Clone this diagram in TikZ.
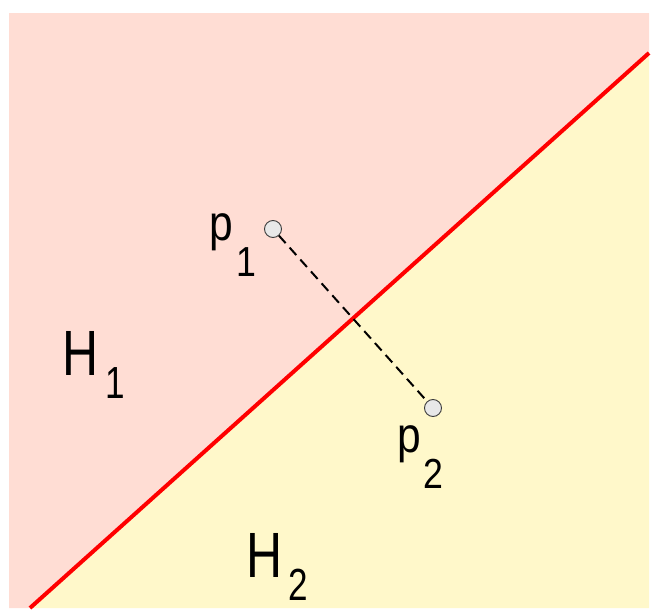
\documentclass[tikz,border=0pt]{standalone}
\usepackage{fontspec}
\setmainfont{Liberation Sans}
\definecolor{pinkH}{RGB}{255,221,212}
\definecolor{yellowH}{RGB}{255,248,202}
\definecolor{ptfill}{RGB}{232,232,232}
\definecolor{ptline}{RGB}{60,60,60}
\newcommand{\biglab}[3]{\scalebox{0.78}[1]{{\fontsize{64}{64}\selectfont #1}\kern#3\raisebox{-23pt}{\fontsize{45}{45}\selectfont #2}}}
\newcommand{\smalllab}[3]{\scalebox{0.85}[1]{{\fontsize{50}{50}\selectfont #1}\kern#3\raisebox{-36pt}{\fontsize{42}{42}\selectfont #2}}}
\begin{document}
\begin{tikzpicture}[x=1pt,y=-1pt,
  pt/.style={circle,draw=ptline,line width=0.9pt,fill=ptfill,minimum size=17pt,inner sep=0pt},
  sep/.style={red,line width=4pt},
  seg/.style={black,line width=2pt,dash pattern=on 10pt off 6pt},
  lab/.style={anchor=base west,inner sep=0pt,text=black}]
\useasboundingbox (0,0) rectangle (654,613);
\fill[pinkH] (9,13) -- (649,13) -- (649,53) -- (30,608) -- (9,608) -- cycle;
\fill[yellowH] (649,53) -- (649,608) -- (30,608) -- cycle;
\coordinate (a) at (30,608);
\coordinate (b) at (649,53);
\draw[sep] (a) -- (b);
\node[pt] (p1) at (273,229) {};
\node[pt] (p2) at (433,408) {};
\draw[seg] (p1) -- (p2);
\node[lab] (h1) at (62,375) {\biglab{H}{1}{9pt}};
\node[lab] (h2) at (246,577) {\biglab{H}{2}{8pt}};
\node[lab] (l1) at (209,240) {\smalllab{p}{1}{4pt}};
\node[lab] (l2) at (397,452) {\smalllab{p}{2}{3pt}};
\end{tikzpicture}
\end{document}
